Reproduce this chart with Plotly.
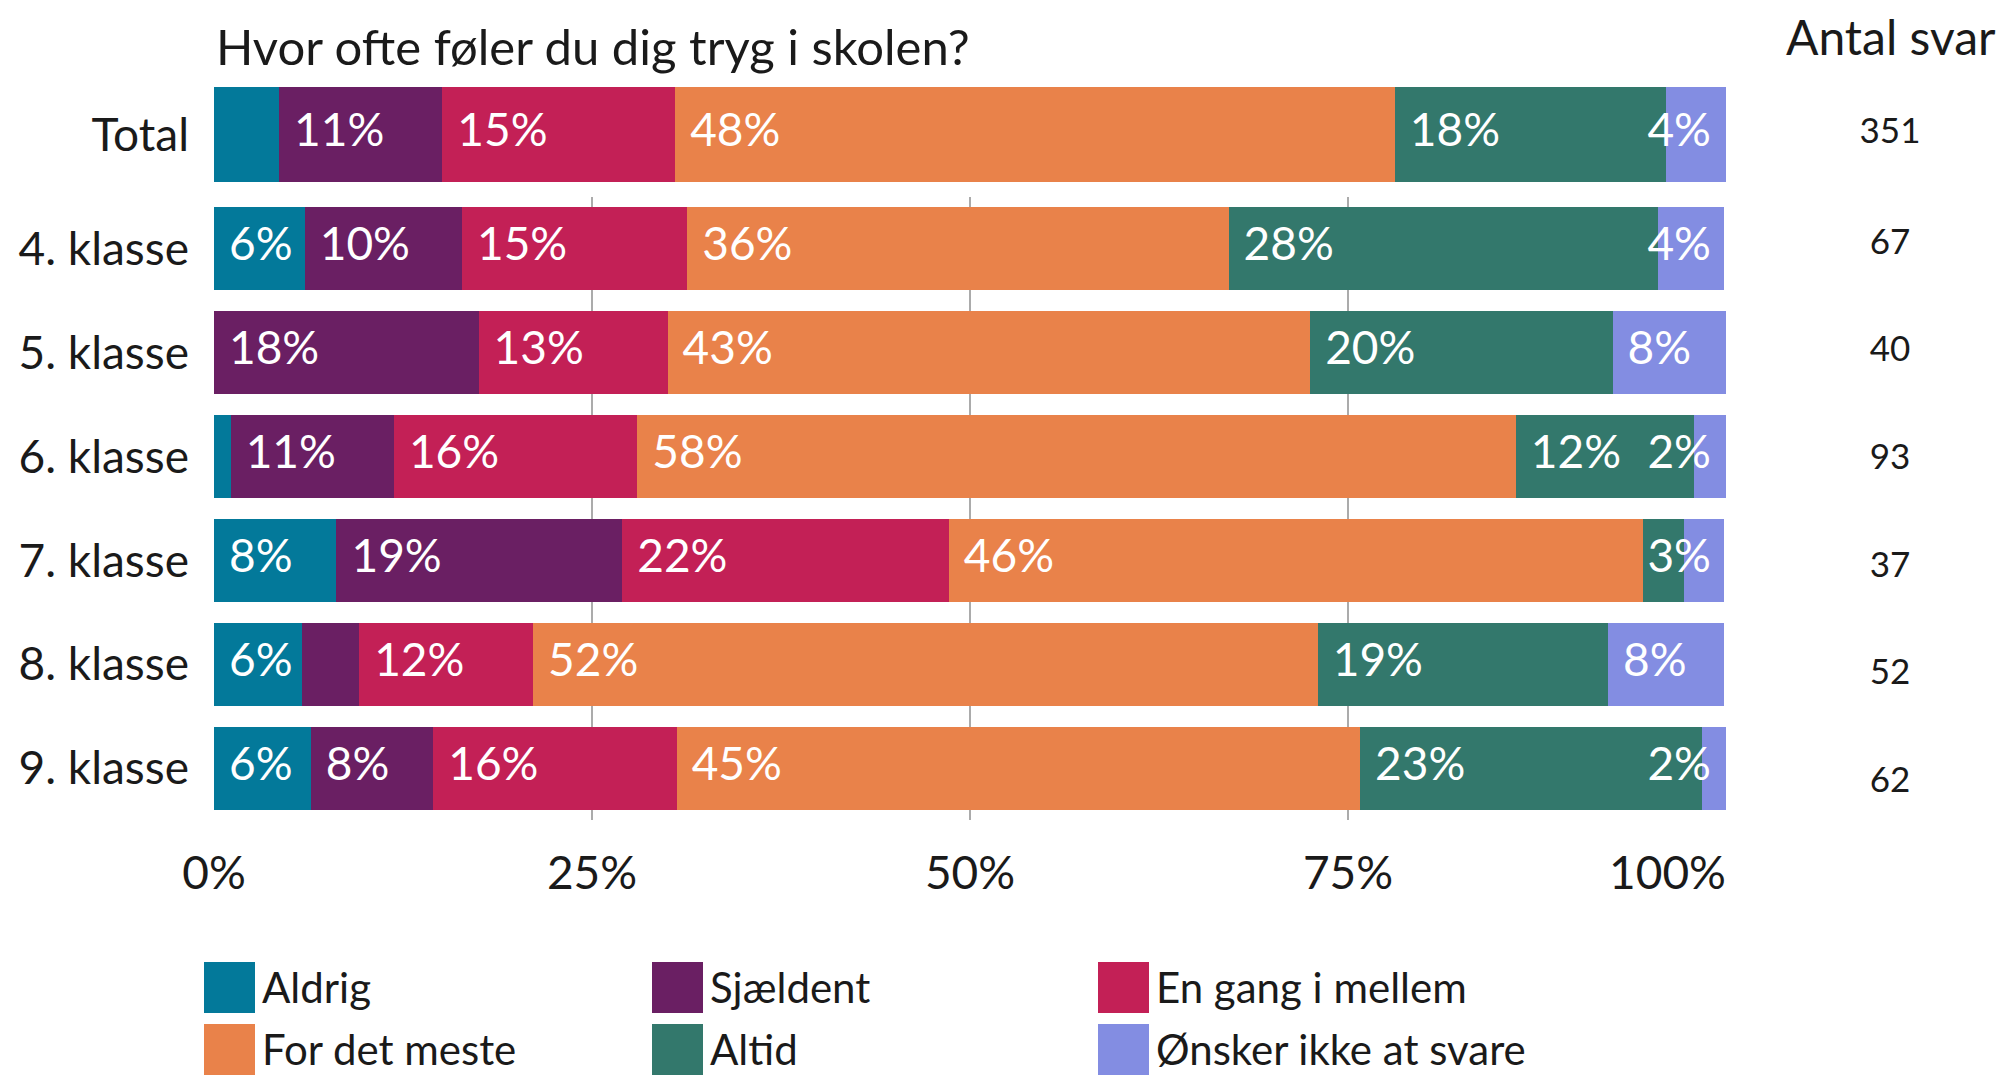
import plotly.graph_objects as go

# ---------------- data ----------------
categories = ["4. klasse", "5. klasse", "6. klasse", "7. klasse", "8. klasse", "9. klasse"]
total_label = "Total"
series_names = ["Aldrig", "Sjældent", "En gang i mellem", "For det meste", "Altid", "Ønsker ikke at svare"]
colors = ["#03799A", "#6A1F63", "#C32056", "#E9824A", "#33786C", "#838DE2"]

total_pct = [4.3, 10.8, 15.4, 47.6, 17.9, 4.0]
aldrig = [6.0, 0.0, 1.1, 8.1, 5.8, 6.4]
sjaeldent = [10.4, 17.5, 10.8, 18.9, 3.8, 8.1]
en_gang = [14.9, 12.5, 16.1, 21.6, 11.5, 16.1]
for_det_meste = [35.8, 42.5, 58.1, 45.9, 51.9, 45.2]
altid = [28.4, 20.0, 11.8, 2.7, 19.2, 22.6]
oensker = [4.4, 7.5, 2.2, 2.7, 7.7, 1.6]

antal_total = 351
antal_svar = [67, 40, 93, 37, 52, 62]

x_ticks = [0, 25, 50, 75, 100]
x_ticklabels = ["0%", "25%", "50%", "75%", "100%"]

title_text = "Hvor ofte føler du dig tryg i skolen?"
count_header = "Antal svar"

# ---------------- layout helpers ----------------
W, H = 2001, 1076
FONT = "Lato"
DARK = "#1a1a1a"
LABEL_FS = 46


def px_x(p):
    return p / W


def px_y(p):
    return 1 - p / H


X0, X1 = 214, 1726
PX_PER_UNIT = (X1 - X0) / 100.0
PAD = 15 / PX_PER_UNIT

series_lists = [aldrig, sjaeldent, en_gang, for_det_meste, altid, oensker]

fig = go.Figure()

for i, name in enumerate(series_names):
    fig.add_trace(go.Bar(
        y=[total_label], x=[total_pct[i]], orientation="h", width=0.8,
        marker=dict(color=colors[i], line=dict(width=0)),
        xaxis="x2", yaxis="y2", showlegend=False, hoverinfo="skip", name=name))
    fig.add_trace(go.Bar(
        y=categories, x=series_lists[i], orientation="h",
        marker=dict(color=colors[i], line=dict(width=0)),
        xaxis="x", yaxis="y", showlegend=False, hoverinfo="skip", name=name))


def label_points(row_vals):
    xs, txts, poss = [], [], []
    start = 0.0
    n = len(row_vals)
    for i, v in enumerate(row_vals):
        t = f"{int(v + 0.5)}%"
        if v > 0 and (v >= 5 or i == n - 1):
            w = len(t) * 0.68 * LABEL_FS / PX_PER_UNIT
            if start + PAD + w > 100 - PAD:
                xs.append(100 - PAD)
                poss.append("middle left")
            else:
                xs.append(start + PAD)
                poss.append("middle right")
            txts.append(t)
        start += v
    return xs, txts, poss


# Total labels
tx, tt, tp = label_points(total_pct)
fig.add_trace(go.Scatter(
    x=tx, y=[total_label] * len(tx), text=tt, textposition=tp, mode="text",
    marker=dict(size=1), textfont=dict(family=FONT, size=LABEL_FS, color="white"),
    xaxis="x2", yaxis="y2", showlegend=False, hoverinfo="skip", cliponaxis=False))

# class labels
ax, ay, at, ap = [], [], [], []
for r, cat in enumerate(categories):
    row = [s[r] for s in series_lists]
    xs, ts, ps = label_points(row)
    ax += xs
    ay += [cat] * len(xs)
    at += ts
    ap += ps
fig.add_trace(go.Scatter(
    x=ax, y=ay, text=at, textposition=ap, mode="text",
    marker=dict(size=1), textfont=dict(family=FONT, size=LABEL_FS, color="white"),
    xaxis="x", yaxis="y", showlegend=False, hoverinfo="skip", cliponaxis=False))

# counts column
COUNT_FS = 35
fig.add_trace(go.Scatter(
    x=[0.5], y=[total_label], text=[str(antal_total)], mode="text",
    textposition="middle center", textfont=dict(family=FONT, size=COUNT_FS, color=DARK),
    xaxis="x3", yaxis="y2", showlegend=False, hoverinfo="skip", cliponaxis=False))
fig.add_trace(go.Scatter(
    x=[0.5] * len(categories), y=categories, text=[str(n) for n in antal_svar], mode="text",
    textposition="middle center", textfont=dict(family=FONT, size=COUNT_FS, color=DARK),
    xaxis="x3", yaxis="y3", showlegend=False, hoverinfo="skip", cliponaxis=False))

# invisible trace for the overlay axis carrying the "100%" label
fig.add_trace(go.Scatter(
    x=[x_ticks[-1]], y=[categories[0]], mode="markers", marker=dict(opacity=0),
    xaxis="x4", yaxis="y", showlegend=False, hoverinfo="skip"))

grid_color = "#ABABAB"
TICK_FS = 46

fig.update_layout(
    width=W, height=H,
    margin=dict(l=0, r=0, t=0, b=0, autoexpand=False),
    paper_bgcolor="white", plot_bgcolor="white",
    barmode="stack", bargap=0.2,
    hovermode=False,
    font=dict(family=FONT, color=DARK),
    xaxis=dict(
        domain=[px_x(X0), px_x(X1)], range=[0, 100], anchor="y", automargin=False,
        tickmode="array", tickvals=x_ticks, ticktext=x_ticklabels[:-1] + [""],
        showgrid=True, gridcolor=grid_color, gridwidth=1.5,
        zeroline=False, showline=False, ticks="",
        ticklabelstandoff=22,
        tickfont=dict(family=FONT, size=TICK_FS, color=DARK), fixedrange=True),
    xaxis2=dict(
        domain=[px_x(X0), px_x(X1)], range=[0, 100], anchor="y2", automargin=False,
        showticklabels=False, showgrid=False, zeroline=False, showline=False, ticks=""),
    xaxis3=dict(
        domain=[px_x(1840), px_x(1940)], range=[0, 1], anchor="y3", visible=False,
        automargin=False),
    xaxis4=dict(
        overlaying="x", range=[0, 100], anchor="y", side="bottom", automargin=False,
        tickmode="array", tickvals=[x_ticks[-1]], ticktext=[x_ticklabels[-1]],
        ticklabelposition="outside left", showgrid=False, zeroline=False,
        showline=False, ticks="", ticklabelstandoff=22,
        tickfont=dict(family=FONT, size=TICK_FS, color=DARK)),
    yaxis=dict(
        domain=[px_y(820), px_y(197)], anchor="x", type="category", automargin=False,
        categoryorder="array", categoryarray=categories, range=[5.5, -0.5],
        showgrid=False, zeroline=False, showline=False, ticks="",
        ticklabelstandoff=24,
        tickfont=dict(family=FONT, size=TICK_FS, color=DARK)),
    yaxis2=dict(
        domain=[px_y(182), px_y(87)], anchor="x2", type="category", automargin=False,
        range=[-0.4, 0.4], showgrid=False, zeroline=False, showline=False, ticks="",
        ticklabelstandoff=24,
        tickfont=dict(family=FONT, size=TICK_FS, color=DARK)),
    yaxis3=dict(
        domain=[px_y(836.8), px_y(191.2)], anchor="x3", type="category", automargin=False,
        categoryorder="array", categoryarray=categories, range=[5.5, -0.5],
        visible=False),
)

annotations = [
    dict(text=title_text, xref="paper", yref="paper", x=px_x(214), y=px_y(46),
         xanchor="left", yanchor="middle", showarrow=False,
         font=dict(family=FONT, size=49, color=DARK)),
    dict(text=count_header, xref="paper", yref="paper", x=px_x(1998), y=px_y(36),
         xanchor="right", yanchor="middle", showarrow=False,
         font=dict(family=FONT, size=48, color=DARK)),
]

# manual legend (large swatches), 2 rows x 3 columns
shapes = []
col_left = [204, 652, 1098]
row_top = [962, 1024]
SW = 51
LEG_FS = 42
for i, name in enumerate(series_names):
    r, c = divmod(i, 3)
    x0 = col_left[c]
    y0 = row_top[r]
    shapes.append(dict(type="rect", xref="paper", yref="paper",
                       x0=px_x(x0), x1=px_x(x0 + SW), y0=px_y(y0 + SW), y1=px_y(y0),
                       fillcolor=colors[i], line=dict(width=0), layer="above"))
    annotations.append(dict(text=name, xref="paper", yref="paper",
                            x=px_x(x0 + SW + 6), y=px_y(y0 + SW / 2 - 1),
                            xanchor="left", yanchor="middle", showarrow=False,
                            borderpad=0,
                            font=dict(family=FONT, size=LEG_FS, color=DARK)))

fig.update_layout(annotations=annotations, shapes=shapes)

fig.write_html("out.html", config={"displayModeBar": False},
               post_script="document.body.style.margin='0';document.body.style.overflow='hidden';")
